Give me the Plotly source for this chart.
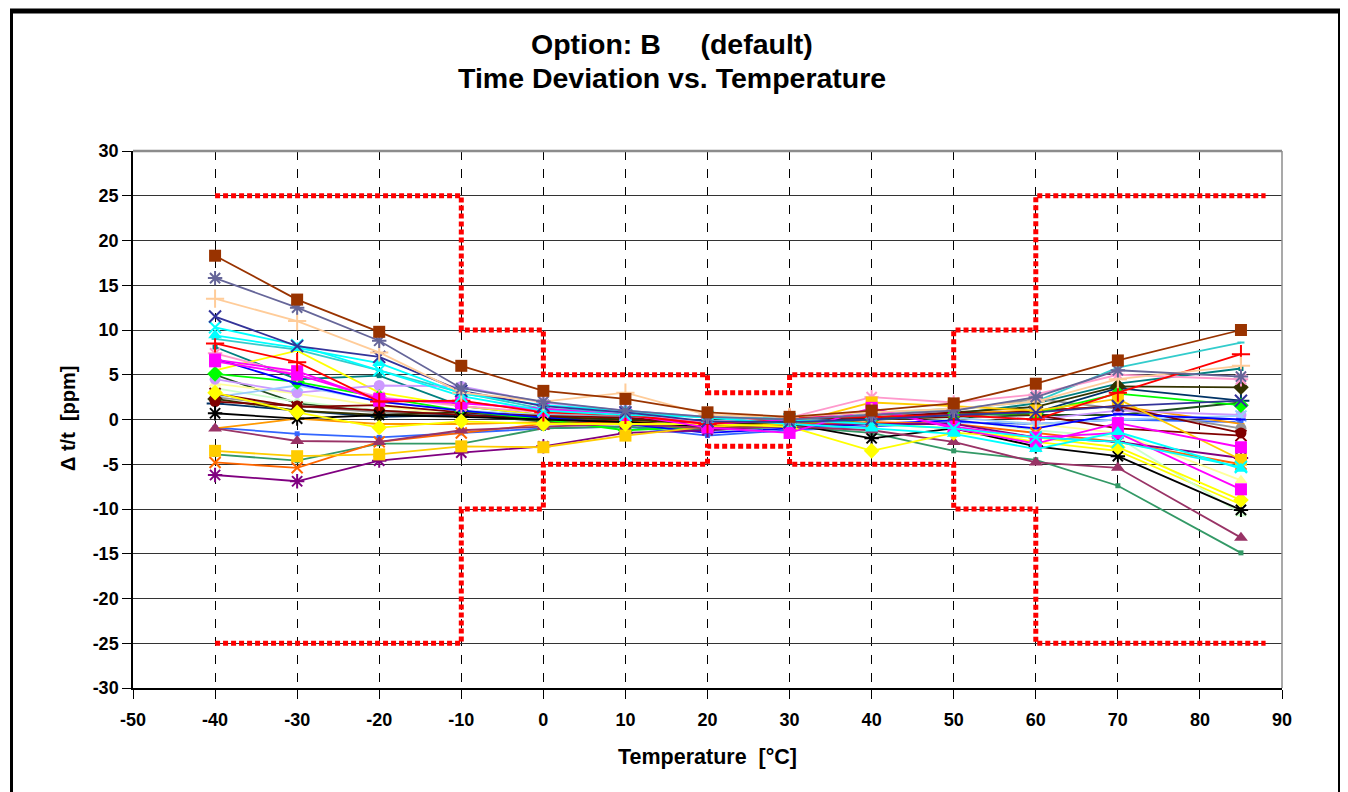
import plotly.graph_objects as go

# ---------------- data ----------------
temps = [-40, -30, -20, -10, 0, 10, 20, 30, 40, 50, 60, 70, 85]

s_brown_sq   = [18.3, 13.4, 9.8, 6.0, 3.2, 2.3, 0.8, 0.3, 1.0, 1.8, 4.0, 6.6, 10.0]
s_slate_ast  = [15.8, 12.5, 8.8, 3.5, 2.0, 1.0, 0.3, 0.0, 0.5, 1.0, 2.5, 5.5, 4.8]
s_peach_plus = [13.5, 11.0, 7.5, 3.0, 2.0, 3.0, 0.5, 0.3, 0.8, 1.2, 2.0, 4.5, 6.0]
s_navy_x     = [11.5, 8.2, 7.0, 3.2, 1.5, 0.8, -0.2, -0.3, 0.0, 0.5, 0.8, 1.5, 2.1]
s_cyan_x     = [10.3, 8.3, 5.5, 2.6, 1.0, 0.5, 0.3, 0.0, -0.5, -1.0, -2.0, -2.5, -5.3]
s_cyan_tri   = [9.4, 8.0, 6.3, 2.9, 1.6, 1.0, 0.2, -0.5, -1.0, -1.6, -3.3, -1.4, -5.5]
s_ltteal     = [9.0, 7.8, 5.5, 3.0, 1.2, 0.8, 0.2, 0.2, 0.7, 1.2, 2.0, 5.8, 8.6]
s_red_plus   = [8.5, 6.4, 2.0, 2.1, 0.8, 0.5, -0.5, 0.2, 0.3, 0.5, 0.0, 3.0, 7.3]
s_teal       = [8.1, 4.5, 4.9, 1.5, 0.5, 0.3, -0.2, 0.0, 0.4, 0.6, 1.8, 4.0, 5.7]
s_pink_ast   = [7.4, 5.0, 2.5, 1.5, 0.8, 0.5, -0.3, 0.2, 2.5, 1.9, 2.8, 5.0, 4.5]
s_blue       = [6.8, 4.0, 2.0, 1.0, 0.2, -0.5, -1.5, -1.0, -0.5, -0.1, -1.0, 0.6, 0.0]
s_mag_sq     = [6.7, 5.4, 2.1, 2.0, 1.0, 0.6, -0.9, -1.5, 1.3, -1.0, -2.7, -0.4, -3.1]
s_mag_sq2    = [6.5, 5.0, 2.3, 1.8, 1.2, 0.5, -0.5, 0.0, 1.0, -0.8, -2.0, -1.5, -7.8]
s_yellow     = [5.5, 7.7, 3.0, 1.5, 0.5, 0.0, -0.3, -0.5, -0.5, -1.0, -2.5, -3.5, -9.5]
s_green_dia  = [5.1, 4.2, 2.5, 1.0, 0.0, -1.2, -0.8, -0.5, 0.0, 0.5, 0.7, 2.9, 1.6]
s_dkgreen    = [5.0, 1.8, 1.0, 0.5, -0.2, -0.5, -1.0, -0.5, 0.0, 0.2, 0.5, 0.5, 1.9]
s_lavender   = [4.5, 3.0, 3.8, 3.7, 1.9, 1.0, 0.3, 0.0, 0.8, 0.5, 0.0, 1.0, 0.5]
s_ltyel_circ = [4.0, 2.9, 1.5, 0.5, 0.0, -0.3, -0.5, -0.3, 0.3, 0.2, -0.5, -1.5, -6.8]
s_palegreen  = [3.5, 2.0, 1.0, 0.5, 0.2, 0.0, -0.5, -0.3, 0.5, 0.0, -1.2, -2.0, -10.5]
s_yel_dia    = [3.0, 0.8, -0.9, -0.2, -0.5, -0.5, -0.5, -0.8, -3.5, -1.5, -2.0, -3.1, -9.0]
s_dkred_x    = [2.9, 1.4, 1.6, 0.8, 0.4, 0.2, -0.5, 0.1, 0.2, 0.8, 0.5, -1.0, -1.8]
s_ltblue_x   = [2.5, 3.8, 2.0, 1.0, 0.5, 0.2, -0.2, 0.0, 0.3, 0.2, -0.5, 0.0, 0.4]
s_gray       = [2.5, 1.5, 0.8, 0.5, 0.5, 0.3, -0.2, 0.0, 0.5, 1.0, 2.3, 1.2, -1.0]
s_olive_dia  = [2.3, 1.0, 0.5, 0.8, 0.3, 0.0, -0.5, -0.3, 0.0, 0.8, 1.4, 3.7, 3.6]
s_dkred_circ = [2.0, 1.5, 1.0, 0.5, 0.0, -0.2, -0.8, -0.5, 0.0, 0.3, 1.0, 1.5, -1.5]
s_navy_plus  = [1.8, 1.0, 0.3, 0.5, 0.2, 0.0, -0.3, -0.2, 0.2, 0.5, 0.8, 3.5, 2.1]
s_black_ast  = [0.7, 0.1, 0.5, 0.3, 0.0, -0.3, -0.8, -0.5, -2.1, -1.0, -3.0, -4.1, -10.1]
s_orange     = [-1.0, 0.1, -0.5, -0.5, -0.3, -0.2, -0.5, -0.3, 0.5, 0.7, 1.0, 1.5, -0.5]
s_blue2      = [-0.9, -1.6, -2.0, -1.5, -1.0, -0.8, -1.8, -1.2, -0.8, -0.3, -0.5, 0.0, -0.3]
s_plum_tri   = [-1.0, -2.4, -2.5, -1.2, -0.8, -0.5, -1.0, -0.8, -1.2, -2.5, -4.8, -5.4, -13.2]
s_gold_sq    = [-3.5, -4.1, -3.9, -3.0, -3.1, -1.8, -0.8, -0.5, 1.9, 1.5, 1.0, 2.3, -4.5]
s_seagreen   = [-3.9, -4.6, -2.7, -2.7, -1.0, -0.8, -1.2, -0.8, -1.5, -3.5, -4.5, -7.4, -14.9]
s_orange_x   = [-4.8, -5.4, -2.5, -1.5, -0.5, -0.3, -0.8, -0.5, -0.3, -0.5, -1.5, -2.5, -5.0]
s_purple_ast = [-6.2, -6.9, -4.6, -3.7, -3.0, -1.5, -1.2, -0.6, -0.5, -0.5, -2.0, -2.5, -4.3]

limit_x     = [-40, -10, -10, 0, 0, 20, 20, 30, 30, 50, 50, 60, 60, 88]
limit_upper = [25, 25, 10, 10, 5, 5, 3, 3, 5, 5, 10, 10, 25, 25]
limit_lower = [-25, -25, -10, -10, -5, -5, -3, -3, -5, -5, -10, -10, -25, -25]

x_ticks = list(range(-50, 91, 10))
y_ticks = list(range(-30, 31, 5))

# ---------------- styles ----------------
series = [
    (s_ltteal,     "#33CCCC", "line-ew", 5),
    (s_teal,       "#008080", "square", 5),
    (s_blue2,      "#3366FF", "square", 5),
    (s_seagreen,   "#339966", "square", 5),
    (s_orange,     "#FF9900", "line-ew", 5),
    (s_dkgreen,    "#1F4F1F", "line-ew", 5),
    (s_yellow,     "#FFFF00", "line-ew", 5),
    (s_palegreen,  "#CCFFCC", "triangle-up", 11),
    (s_ltyel_circ, "#FFFF99", "triangle-up", 11),
    (s_gray,       "#969696", "circle", 11),
    (s_lavender,   "#CC99FF", "circle", 11),
    (s_navy_plus,  "#003366", "cross-thin-open", 12),
    (s_ltblue_x,   "#99CCFF", "x-thin-open", 11),
    (s_olive_dia,  "#333300", "diamond", 12),
    (s_dkred_circ, "#800000", "circle", 11),
    (s_dkred_x,    "#800000", "x-thin-open", 11),
    (s_green_dia,  "#00FF00", "diamond", 12),
    (s_blue,       "#0000FF", "line-ew", 7),
    (s_orange_x,   "#FF6600", "x-thin-open", 11),
    (s_purple_ast, "#800080", "asterisk-open", 12),
    (s_black_ast,  "#000000", "asterisk-open", 12),
    (s_pink_ast,   "#FF99CC", "asterisk-open", 12),
    (s_gold_sq,    "#FFCC00", "square", 12),
    (s_plum_tri,   "#993366", "triangle-up", 12),
    (s_yel_dia,    "#FFFF00", "diamond", 12),
    (s_mag_sq2,    "#FF00FF", "square", 12),
    (s_mag_sq,     "#FF00FF", "square", 12),
    (s_red_plus,   "#FF0000", "cross-thin-open", 13),
    (s_cyan_tri,   "#00FFFF", "triangle-up", 12),
    (s_cyan_x,     "#00FFFF", "x-thin-open", 12),
    (s_navy_x,     "#333399", "x-thin-open", 12),
    (s_peach_plus, "#FFCC99", "cross-thin-open", 13),
    (s_slate_ast,  "#666699", "asterisk-open", 12),
    (s_brown_sq,   "#993300", "square", 12),
]

# figure geometry (the page adds an 8px body margin)
W, H = 1340, 784
ML, MT, PW, PH = 125, 143, 1149, 537
MR = W - ML - PW
MB = H - MT - PH


def px(xf):
    return (xf - ML) / PW


def py(yf):
    return (MT + PH - yf) / PH


fig = go.Figure()

for vals, col, sym, sz in series:
    fig.add_trace(go.Scatter(
        x=temps, y=vals, mode="lines+markers",
        line=dict(color=col, width=1.8),
        marker=dict(symbol=sym, size=sz, color=col,
                    line=dict(color=col, width=2 if ("open" in sym or sym == "line-ew") else 0)),
        showlegend=False, hoverinfo="skip"))

for lim in (limit_upper, limit_lower):
    fig.add_trace(go.Scatter(
        x=limit_x, y=lim, mode="lines",
        line=dict(color="#FF0000", width=5, dash="5px,3px"),
        showlegend=False, hoverinfo="skip"))

# plot-area top/right gray border
fig.add_shape(type="line", xref="paper", yref="paper", x0=0, x1=1, y0=1, y1=1,
              line=dict(color="#8C8C8C", width=2.5), layer="above")
fig.add_shape(type="line", xref="paper", yref="paper", x0=1, x1=1, y0=0, y1=1,
              line=dict(color="#8C8C8C", width=1.5), layer="above")

# outer figure frame (black)
fx0, fx1 = px(3.5), px(1331.5)
fytop, fybot = py(3), py(820)
fig.add_shape(type="line", xref="paper", yref="paper", x0=px(2), x1=px(1333),
              y0=fytop, y1=fytop, line=dict(color="black", width=5))
fig.add_shape(type="line", xref="paper", yref="paper", x0=fx0, x1=fx0,
              y0=fybot, y1=fytop, line=dict(color="black", width=3))
fig.add_shape(type="line", xref="paper", yref="paper", x0=fx1, x1=fx1,
              y0=fybot, y1=fytop, line=dict(color="black", width=3))

font_family = "Liberation Sans, Arial, sans-serif"

title_x = px(664)
annotations = [
    dict(text="<b>Option: B\u00a0\u00a0\u00a0\u00a0\u00a0(default)</b>", x=title_x, y=py(36),
         font=dict(size=28.5)),
    dict(text="<b>Time Deviation vs. Temperature</b>", x=title_x, y=py(70),
         font=dict(size=28.5)),
    dict(text="<b>Temperature\u00a0\u00a0[°C]</b>", x=px(699), y=py(749),
         font=dict(size=21.5)),
    dict(text="<b>Δ t/t\u00a0\u00a0[ppm]</b>", x=px(60), y=py(411),
         font=dict(size=20), textangle=-90),
]
for a in annotations:
    a.update(xref="paper", yref="paper", xanchor="center", yanchor="middle",
             showarrow=False)
    a["font"].update(family=font_family, color="black")

fig.update_layout(
    width=W, height=H,
    margin=dict(l=ML, r=MR, t=MT, b=MB),
    paper_bgcolor="white", plot_bgcolor="white",
    font=dict(family=font_family, color="black"),
    annotations=annotations,
    xaxis=dict(
        range=[-50, 90], tickvals=x_ticks, ticktext=[str(v) for v in x_ticks],
        showgrid=True, gridcolor="#000000", gridwidth=1, griddash="dash",
        zeroline=False, showline=True, linecolor="black", linewidth=1.5,
        ticks="outside", ticklen=9, tickcolor="black", ticklabelstandoff=6,
        tickfont=dict(size=18, family=font_family, weight="bold")),
    yaxis=dict(
        range=[-30, 30], tickvals=y_ticks, ticktext=[str(v) for v in y_ticks],
        showgrid=True, gridcolor="#333333", gridwidth=1,
        zeroline=False, showline=True, linecolor="black", linewidth=1.5,
        ticks="outside", ticklen=9, tickcolor="black",
        tickfont=dict(size=18, family=font_family, weight="bold")),
)

fig.write_html("out.html")
